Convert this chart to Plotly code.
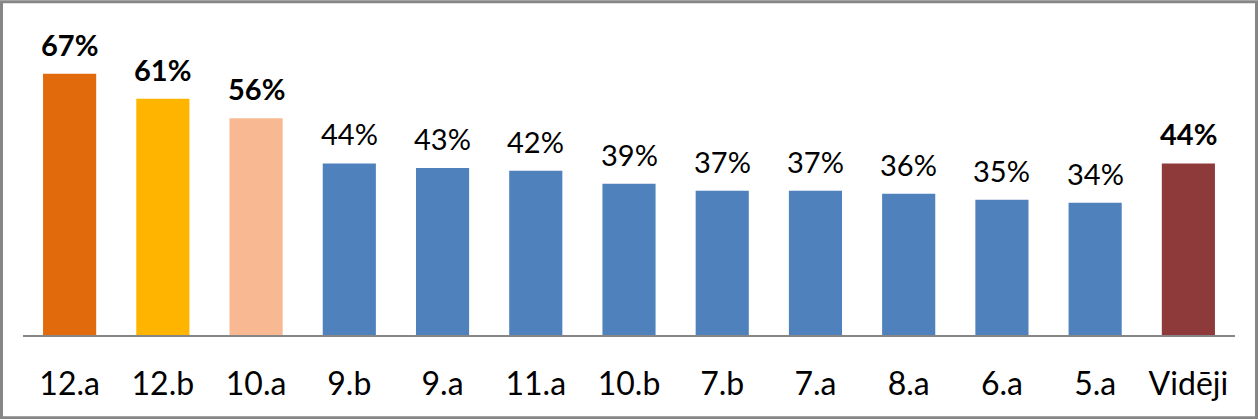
import plotly.graph_objects as go

categories = ["12.a", "12.b", "10.a", "9.b", "9.a", "11.a", "10.b", "7.b", "7.a", "8.a", "6.a", "5.a", "Vidēji"]
values = [0.67, 0.606, 0.556, 0.44, 0.428, 0.421, 0.388, 0.370, 0.370, 0.362, 0.347, 0.339, 0.44]
colors = ["#E16A0C", "#FFB400", "#F8B891", "#4F81BD", "#4F81BD", "#4F81BD", "#4F81BD",
          "#4F81BD", "#4F81BD", "#4F81BD", "#4F81BD", "#4F81BD", "#8E3A3A"]
bold_labels = [True, True, True, False, False, False, False, False, False, False, False, False, True]

W, H = 1258, 419
left, right = 23, 1235
top, bottom = 61.7, 334.7

fig = go.Figure(go.Bar(x=categories, y=values, marker=dict(color=colors, line=dict(width=0)),
                       hoverinfo="skip"))

FONT = "Lato"
annotations = []
for c, v, b in zip(categories, values, bold_labels):
    txt = f"{round(v*100):.0f}%"
    if b:
        txt = f"<b>{txt}</b>"
    annotations.append(dict(x=c, y=v, xref="x", yref="y", text=txt, showarrow=False,
                            yanchor="bottom", yshift=10,
                            font=dict(family=FONT, size=29, color="#000000")))

pw = right - left
ph = bottom - top
def px_to_paper_x(p):
    return (p - left) / pw
def px_to_paper_y(p):
    return (bottom - p) / ph

fig.update_layout(
    width=W, height=H,
    margin=dict(l=left, r=W - right, t=top, b=H - bottom, pad=0),
    paper_bgcolor="white", plot_bgcolor="white",
    bargap=0.43,
    showlegend=False,
    annotations=annotations,
    xaxis=dict(showgrid=False, showline=True, linecolor="#868686", linewidth=1.5,
               ticks="", ticklabelstandoff=20,
               tickfont=dict(family=FONT, size=32, color="#000000"), fixedrange=True),
    yaxis=dict(range=[0, 0.7], visible=False, showgrid=False, zeroline=False, fixedrange=True),
    shapes=[dict(type="rect", xref="paper", yref="paper",
                 x0=px_to_paper_x(1.5), x1=px_to_paper_x(1256.5),
                 y0=px_to_paper_y(417.5), y1=px_to_paper_y(1.5),
                 line=dict(color="#868686", width=3), fillcolor="rgba(0,0,0,0)", layer="above")],
)

fig.write_html("out.html", config={"displayModeBar": False},
               post_script="document.body.style.margin='0';document.body.style.padding='0';")
